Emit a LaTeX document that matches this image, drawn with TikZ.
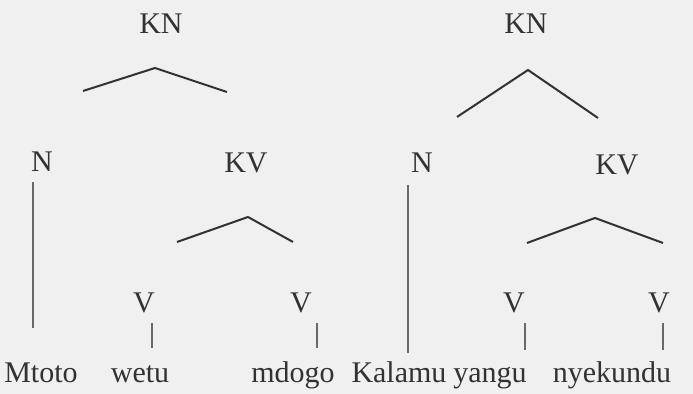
\documentclass[tikz,border=0pt]{standalone}
\usepackage{fontspec}
\setmainfont{Liberation Serif}
\usepackage{tikz}
\usetikzlibrary{positioning}
\usetikzlibrary{calc}

\definecolor{paper}{RGB}{240,240,240}
\definecolor{ink}{RGB}{50,50,50}
\definecolor{stemgray}{RGB}{105,105,105}

\begin{document}
\begin{tikzpicture}[x=0.5pt, y=0.5pt,
    lbl/.style={inner sep=0pt, text=ink, font=\fontsize{15}{18}\selectfont},
    word/.style={lbl, anchor=base},
    roof/.style={draw=ink, line width=1pt, line join=miter},
    stem/.style={draw=stemgray, line width=1pt}]

    \fill[paper] (0,0) rectangle (693,394);
    \useasboundingbox (0,0) rectangle (693,394);

    % Mtoto wetu mdogo
    \node[lbl] (kn1) at (161,370) {KN};
    \node[lbl] (n1) at (42,232) {N};
    \node[lbl] (kv1) at (246,231) {KV};
    \node[lbl] (v1) at (144,91) {V};
    \node[lbl] (v2) at (301,91) {V};

    \node[word] (w1) at (41,11) {Mtoto};
    \node[word] (w2) at (140,11) {wetu};
    \node[word] (w3) at (293,11) {mdogo};

    \coordinate (kn1l) at (83,303);
    \coordinate (kn1p) at (155,326);
    \coordinate (kn1r) at (227,302);
    \coordinate (kv1l) at (177,152);
    \coordinate (kv1p) at (248,177);
    \coordinate (kv1r) at (293,152);

    \draw[roof] (kn1l) -- (kn1p) -- (kn1r);
    \draw[roof] (kv1l) -- (kv1p) -- (kv1r);
    \draw[stem] ($(n1.south)+(-9,-10)$) -- ($(n1.south)+(-9,-156)$);
    \draw[stem] ($(v1.south)+(8,-10)$) -- ($(v1.south)+(8,-35)$);
    \draw[stem] ($(v2.south)+(16,-10)$) -- ($(v2.south)+(16,-35)$);

    % Kalamu yangu nyekundu
    \node[lbl] (kn2) at (526,370) {KN};
    \node[lbl] (n2) at (422,231) {N};
    \node[lbl] (kv2) at (617,229) {KV};
    \node[lbl] (v3) at (514,91) {V};
    \node[lbl] (v4) at (659,91) {V};

    \node[word] (w4) at (399,11) {Kalamu};
    \node[word] (w5) at (490,11) {yangu};
    \node[word] (w6) at (612,11) {nyekundu};

    \coordinate (kn2l) at (457,277);
    \coordinate (kn2p) at (528,324);
    \coordinate (kn2r) at (598,276);
    \coordinate (kv2l) at (527,151);
    \coordinate (kv2p) at (595,176);
    \coordinate (kv2r) at (663,151);

    \draw[roof] (kn2l) -- (kn2p) -- (kn2r);
    \draw[roof] (kv2l) -- (kv2p) -- (kv2r);
    \draw[stem] ($(n2.south)+(-14,-12)$) -- ($(n2.south)+(-14,-180)$);
    \draw[stem] ($(v3.south)+(11,-10)$) -- ($(v3.south)+(11,-37)$);
    \draw[stem] ($(v4.south)+(4,-10)$) -- ($(v4.south)+(4,-37)$);

\end{tikzpicture}
\end{document}
